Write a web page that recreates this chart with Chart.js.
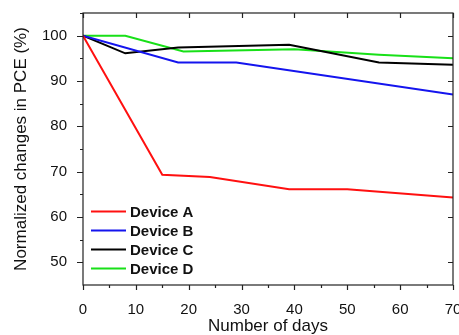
<!DOCTYPE html>
<html><head><meta charset="utf-8">
<script src="https://cdn.jsdelivr.net/npm/chart.js@4"></script>
<style>html,body{margin:0;padding:0;background:#fff;overflow:hidden}canvas{display:block}</style>
</head><body>
<canvas id="c" width="459" height="335"></canvas>
<script>
const seriesNames = ["Device A", "Device B", "Device C", "Device D"];
const daysA = [0, 15, 24, 39, 50, 70];
const pceA  = [100, 69.3, 68.8, 66.1, 66.1, 64.3];
const daysB = [0, 18, 29, 70];
const pceB  = [100, 94.1, 94.1, 87.0];
const daysC = [0, 8, 18, 39, 56, 70];
const pceC  = [100, 96.1, 97.4, 98.0, 94.1, 93.6];
const daysD = [0, 8, 19, 40, 56, 70];
const pceD  = [100, 100, 96.5, 97.0, 95.8, 95.0];
const xTicks = [0, 10, 20, 30, 40, 50, 60, 70];
const yTicks = [50, 60, 70, 80, 90, 100];
const colors = ["#ff1010", "#1414ee", "#000000", "#18e018"];

const pts = (xs, ys) => xs.map((x, i) => ({x: x, y: ys[i]}));
const allData = [pts(daysA, pceA), pts(daysB, pceB), pts(daysC, pceC), pts(daysD, pceD)];

const FONT = "'Liberation Sans', Arial, sans-serif";

const framePlugin = {
  id: 'frame',
  afterDatasetsDraw(chart) {
    const {ctx, chartArea: a, scales: {x, y}} = chart;
    ctx.save();
    ctx.strokeStyle = '#222';
    ctx.lineWidth = 1.2;
    ctx.strokeRect(a.left, a.top, a.right - a.left, a.bottom - a.top);
    ctx.beginPath();
    for (let v = 0; v <= 70; v += 5) {
      const px = Math.round(x.getPixelForValue(v)) + 0.5;
      const major = v % 10 === 0;
      ctx.moveTo(px, a.bottom); ctx.lineTo(px, a.bottom + (major ? 5 : 3));
      if (major) { ctx.moveTo(px, a.top); ctx.lineTo(px, a.top + 5); }
    }
    for (let v = 50; v <= 105; v += 5) {
      const py = Math.round(y.getPixelForValue(v)) + 0.5;
      const major = v % 10 === 0;
      ctx.moveTo(a.left, py); ctx.lineTo(a.left - (major ? 6 : 3), py);
      if (major) { ctx.moveTo(a.right, py); ctx.lineTo(a.right - 5, py); }
    }
    ctx.stroke();
    // legend
    ctx.font = "bold 15px " + FONT;
    ctx.textBaseline = 'middle';
    chart.data.datasets.forEach((ds, i) => {
      const ly = 211.5 + i * 19;
      ctx.strokeStyle = ds.borderColor;
      ctx.lineWidth = 2;
      ctx.beginPath(); ctx.moveTo(91, ly); ctx.lineTo(126, ly); ctx.stroke();
      ctx.fillStyle = '#111';
      ctx.fillText(ds.label, 130, ly + 1);
    });
    ctx.restore();
  }
};

new Chart(document.getElementById('c'), {
  type: 'line',
  data: {
    datasets: seriesNames.map((n, i) => ({
      label: n, data: allData[i], borderColor: colors[i], backgroundColor: colors[i],
      borderWidth: 2, pointRadius: 0, tension: 0, fill: false
    }))
  },
  options: {
    responsive: false, animation: false,
    layout: {padding: {left: 0, right: 6, top: 13, bottom: 0}},
    plugins: {legend: {display: false}, tooltip: {enabled: false}},
    scales: {
      x: {
        type: 'linear', min: 0, max: 70,
        afterFit(s) { s.height = 50; s.paddingRight = 0; s.paddingLeft = 0; },
        afterBuildTicks(s) { s.ticks = xTicks.map(v => ({value: v})); },
        grid: {display: false}, border: {display: false},
        ticks: {color: '#111', font: {family: FONT, size: 15}, padding: 8, maxRotation: 0},
        title: {display: true, text: 'Number of days', color: '#111', font: {family: FONT, size: 17}, padding: {top: 0, bottom: -2}}
      },
      y: {
        min: 45, max: 105,
        afterFit(s) { s.width = 83; s.paddingTop = 0; s.paddingBottom = 0; },
        afterBuildTicks(s) { s.ticks = yTicks.map(v => ({value: v})); },
        grid: {display: false}, border: {display: false},
        ticks: {color: '#111', font: {family: FONT, size: 15}, padding: 8},
        title: {display: true, text: 'Normalized changes in PCE (%)', color: '#111', font: {family: FONT, size: 17}, padding: {top: 11, bottom: 0}}
      }
    }
  },
  plugins: [framePlugin]
});
</script>
</body></html>
